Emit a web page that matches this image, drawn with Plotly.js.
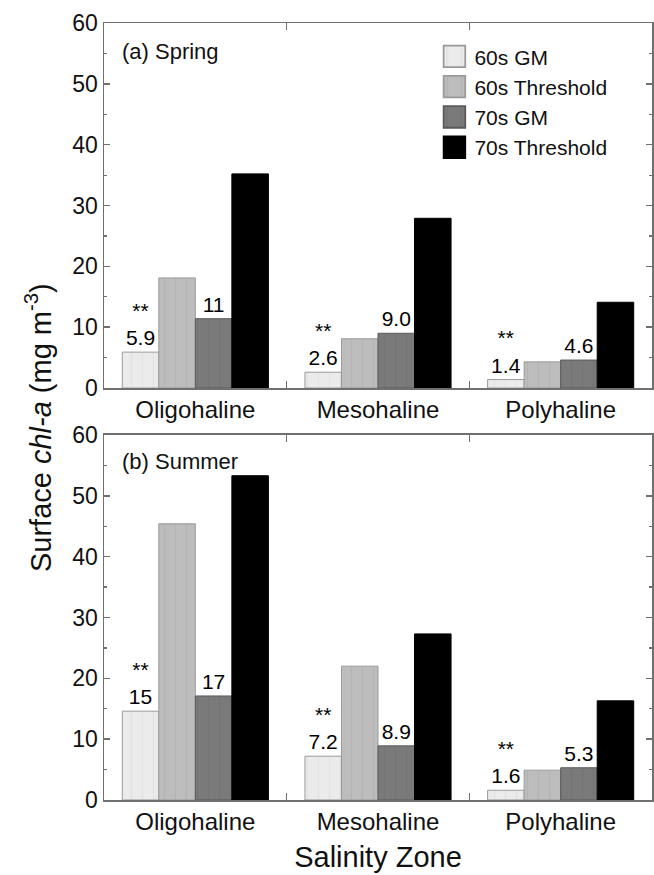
<!DOCTYPE html>
<html><head><meta charset="utf-8">
<script src="https://cdn.plot.ly/plotly-3.0.1.min.js"></script>
<style>html,body{margin:0;padding:0;background:#fff;} #chart{width:654px;height:875px;}</style>
</head><body><div id="chart"></div>
<script>
// ---- data ----
const zones = ['Oligohaline', 'Mesohaline', 'Polyhaline'];
const seriesNames = ['60s GM', '60s Threshold', '70s GM', '70s Threshold'];

const spring60GM  = [5.9, 2.6, 1.4];
const spring60Thr = [18.1, 8.1, 4.3];
const spring70GM  = [11.4, 9.0, 4.6];
const spring70Thr = [35.2, 27.9, 14.1];

const summer60GM  = [14.6, 7.2, 1.6];
const summer60Thr = [45.4, 22.0, 4.9];
const summer70GM  = [17.1, 8.9, 5.3];
const summer70Thr = [53.3, 27.3, 16.3];

const spring60GMLabels = ['5.9', '2.6', '1.4'];
const spring70GMLabels = ['11', '9.0', '4.6'];
const summer60GMLabels = ['15', '7.2', '1.6'];
const summer70GMLabels = ['17', '8.9', '5.3'];
const sigMark = '**';

const panelLabels = ['(a) Spring', '(b) Summer'];
const xTitle = 'Salinity Zone';
const yTitle = 'Surface <i>chl-a</i> (mg m<sup>-3</sup>)';

// ---- styling ----
const fills = ['#ebebeb', '#bdbdbd', '#7a7a7a', '#000000'];
const stripes = ['#e3e3e3', '#b4b4b4', '#747474', '#000000'];
const edges = ['#9a9a9a', '#9a9a9a', '#5a5a5a', '#000000'];
const axisCol = '#707070';
const FONT = 'Liberation Sans, Arial, sans-serif';

function withSig(labels) { return labels.map(l => sigMark + '<br>' + l); }

function bar(name, idx, y, xa, ya, text, showlegend) {
  const t = {
    type: 'bar', name: name, x: zones, y: y, xaxis: xa, yaxis: ya,
    marker: {color: fills[idx], line: {color: edges[idx], width: 1},
             pattern: {shape: '|', fgcolor: stripes[idx], bgcolor: fills[idx], size: 11, solidity: 0.12}},
    showlegend: showlegend, legendgroup: name, hoverinfo: 'skip',
    cliponaxis: false, constraintext: 'none'
  };
  if (text) {
    t.text = text; t.textposition = 'outside';
    t.textfont = {size: 21, color: '#000', family: FONT};
  }
  return t;
}

const data = [
  bar(seriesNames[0], 0, spring60GM, 'x', 'y', withSig(spring60GMLabels), true),
  bar(seriesNames[1], 1, spring60Thr, 'x', 'y', null, true),
  bar(seriesNames[2], 2, spring70GM, 'x', 'y', spring70GMLabels, true),
  bar(seriesNames[3], 3, spring70Thr, 'x', 'y', null, true),
  bar(seriesNames[0], 0, summer60GM, 'x2', 'y2', withSig(summer60GMLabels), false),
  bar(seriesNames[1], 1, summer60Thr, 'x2', 'y2', null, false),
  bar(seriesNames[2], 2, summer70GM, 'x2', 'y2', summer70GMLabels, false),
  bar(seriesNames[3], 3, summer70Thr, 'x2', 'y2', null, false)
];

function xAxis(anchor) {
  return {
    anchor: anchor, domain: [0, 1], type: 'category', range: [-0.5, 2.5],
    tickson: 'boundaries', ticks: 'inside', ticklen: 7, tickwidth: 1.5, tickcolor: axisCol,
    showline: true, linecolor: axisCol, linewidth: 1.5, mirror: 'ticks',
    showgrid: false, zeroline: false, fixedrange: true,
    tickfont: {size: 24, color: '#111', family: FONT}
  };
}
function yAxis(anchor, domain) {
  return {
    anchor: anchor, domain: domain, range: [0, 60], dtick: 10, tick0: 0,
    ticks: 'inside', ticklen: 6, tickwidth: 1.5, tickcolor: axisCol,
    minor: {dtick: 5, ticks: 'inside', ticklen: 3, tickwidth: 1.2, tickcolor: axisCol},
    showline: true, linecolor: axisCol, linewidth: 1.5, mirror: 'ticks',
    showgrid: false, zeroline: false, fixedrange: true,
    tickfont: {size: 23, color: '#111', family: FONT}
  };
}

const layout = {
  width: 654, height: 875,
  margin: {l: 104, r: 2, t: 23, b: 75},
  paper_bgcolor: '#fff', plot_bgcolor: '#fff',
  font: {family: FONT, color: '#111'},
  barmode: 'group', bargap: 0.2, bargroupgap: 0,
  xaxis: xAxis('y'),
  yaxis: yAxis('x', [0.5302, 1]),
  xaxis2: Object.assign(xAxis('y2'), {title: {text: xTitle, font: {size: 29, family: FONT, color: '#111'}, standoff: 12}}),
  yaxis2: yAxis('x2', [0, 0.4698]),
  legend: {
    x: 0.603, y: 0.983, xanchor: 'left', yanchor: 'top',
    bgcolor: 'rgba(0,0,0,0)', borderwidth: 0,
    font: {size: 21, family: FONT, color: '#111'}, tracegroupgap: 0
  },
  annotations: [
    {text: panelLabels[0], xref: 'x domain', yref: 'y domain', x: 0.029, y: 0.923,
     xanchor: 'left', yanchor: 'middle', showarrow: false, font: {size: 22, family: FONT, color: '#111'}},
    {text: panelLabels[1], xref: 'x2 domain', yref: 'y2 domain', x: 0.029, y: 0.926,
     xanchor: 'left', yanchor: 'middle', showarrow: false, font: {size: 22, family: FONT, color: '#111'}},
    {text: yTitle, xref: 'paper', yref: 'paper', x: -0.12, y: 0.479, textangle: -90,
     xanchor: 'center', yanchor: 'middle', showarrow: false, font: {size: 29, family: FONT, color: '#111'}}
  ]
};

Plotly.newPlot('chart', data, layout, {staticPlot: true, displayModeBar: false}).then(function () {
  document.querySelectorAll('.legend .legendpoints path').forEach(function (p) {
    const tr = p.getAttribute('transform') || '';
    p.setAttribute('transform', tr + ' scale(1.8)');
  });
});
</script>
</body></html>
